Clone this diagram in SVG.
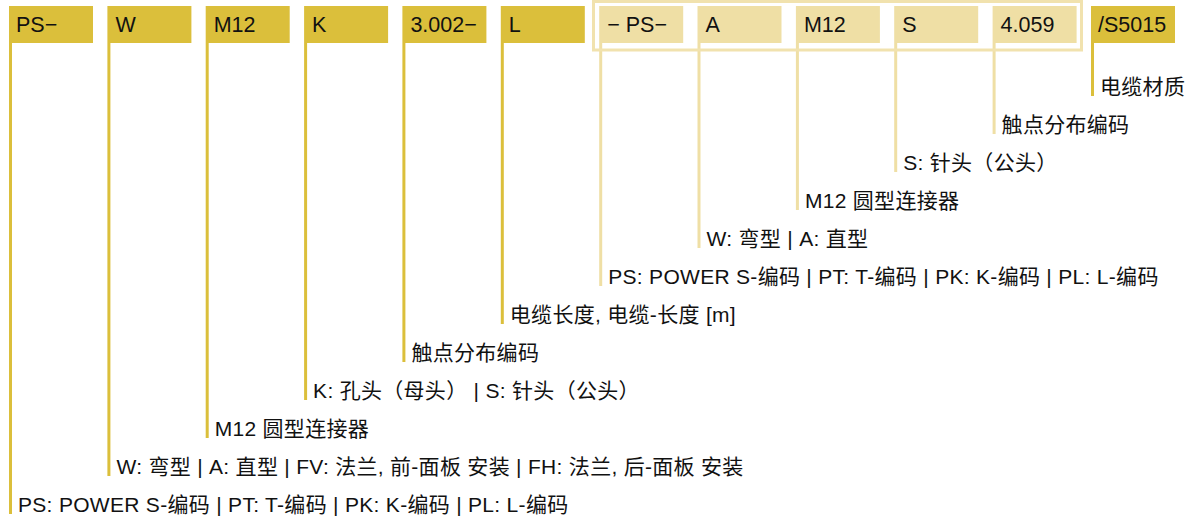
<svg xmlns="http://www.w3.org/2000/svg" width="1186" height="520" viewBox="0 0 1186 520">
<style>
.bd{fill:#dbbf3b}
.bl{fill:#efdfa5}
.ld{fill:#dbbf3b}
.ll{fill:#efdfa5}
.t{font-family:"Liberation Sans","Noto Sans CJK SC",sans-serif;font-size:21.5px;fill:#111}
.lb{font-family:"Liberation Sans","Noto Sans CJK SC",sans-serif;font-size:21px;fill:#111;letter-spacing:0.3px}
</style>
<rect width="1186" height="520" fill="#fff"/>
<g id="connectors">
<rect class="ld" x="9" y="43" width="3" height="471"/>
<rect class="ld" x="107.4" y="43" width="3" height="433"/>
<rect class="ld" x="205.7" y="43" width="3" height="395"/>
<rect class="ld" x="304.1" y="43" width="3" height="357"/>
<rect class="ld" x="402.4" y="43" width="3" height="319"/>
<rect class="ld" x="500.8" y="43" width="3" height="281"/>
<rect class="ll" x="599.2" y="43" width="3" height="243"/>
<rect class="ll" x="697.5" y="43" width="3" height="205"/>
<rect class="ll" x="795.9" y="43" width="3" height="167"/>
<rect class="ll" x="894.2" y="43" width="3" height="129"/>
<rect class="ll" x="992.6" y="43" width="3" height="91"/>
<rect class="ld" x="1091" y="43" width="3" height="53"/>
</g>
<rect id="group-outline" x="593.5" y="1.5" width="488" height="48.5" fill="none" stroke="#f1e2ae" stroke-width="3"/>
<g id="n0"><rect class="bd" x="9" y="6" width="84" height="37"/><text class="t" x="16" y="32">PS−</text></g>
<g id="n1"><rect class="bd" x="107.4" y="6" width="84" height="37"/><text class="t" x="115.4" y="32">W</text></g>
<g id="n2"><rect class="bd" x="205.7" y="6" width="84" height="37"/><text class="t" x="213.7" y="32">M12</text></g>
<g id="n3"><rect class="bd" x="304.1" y="6" width="84" height="37"/><text class="t" x="312.1" y="32">K</text></g>
<g id="n4"><rect class="bd" x="402.4" y="6" width="84" height="37"/><text class="t" x="410.4" y="32">3.002−</text></g>
<g id="n5"><rect class="bd" x="500.8" y="6" width="84" height="37"/><text class="t" x="508.8" y="32">L</text></g>
<g id="n6"><rect class="bl" x="599.2" y="6" width="84" height="37"/><text class="t" x="607.2" y="32">− PS−</text></g>
<g id="n7"><rect class="bl" x="697.5" y="6" width="84" height="37"/><text class="t" x="705.5" y="32">A</text></g>
<g id="n8"><rect class="bl" x="795.9" y="6" width="84" height="37"/><text class="t" x="803.9" y="32">M12</text></g>
<g id="n9"><rect class="bl" x="894.2" y="6" width="84" height="37"/><text class="t" x="902.2" y="32">S</text></g>
<g id="n10"><rect class="bl" x="992.6" y="6" width="84" height="37"/><text class="t" x="1000.6" y="32">4.059</text></g>
<g id="n11"><rect class="bd" x="1091" y="6" width="84" height="37"/><text class="t" x="1098" y="32">/S5015</text></g>
<g id="labels">
<text class="lb" x="1100" y="94">电缆材质</text>
<text class="lb" x="1001.6" y="132">触点分布编码</text>
<text class="lb" x="903.2" y="170">S: 针头（公头）</text>
<text class="lb" x="804.9" y="208">M12 圆型连接器</text>
<text class="lb" x="706.5" y="246">W: 弯型 | A: 直型</text>
<text class="lb" x="608.2" y="284">PS: POWER S-编码 | PT: T-编码 | PK: K-编码 | PL: L-编码</text>
<text class="lb" x="509.8" y="322">电缆长度, 电缆-长度 [m]</text>
<text class="lb" x="411.4" y="360">触点分布编码</text>
<text class="lb" x="313.1" y="398">K: 孔头（母头） | S: 针头（公头）</text>
<text class="lb" x="214.7" y="436">M12 圆型连接器</text>
<text class="lb" x="116.4" y="474">W: 弯型 | A: 直型 | FV: 法兰, 前-面板 安装 | FH: 法兰, 后-面板 安装</text>
<text class="lb" x="18" y="511.5">PS: POWER S-编码 | PT: T-编码 | PK: K-编码 | PL: L-编码</text>
</g>
</svg>
